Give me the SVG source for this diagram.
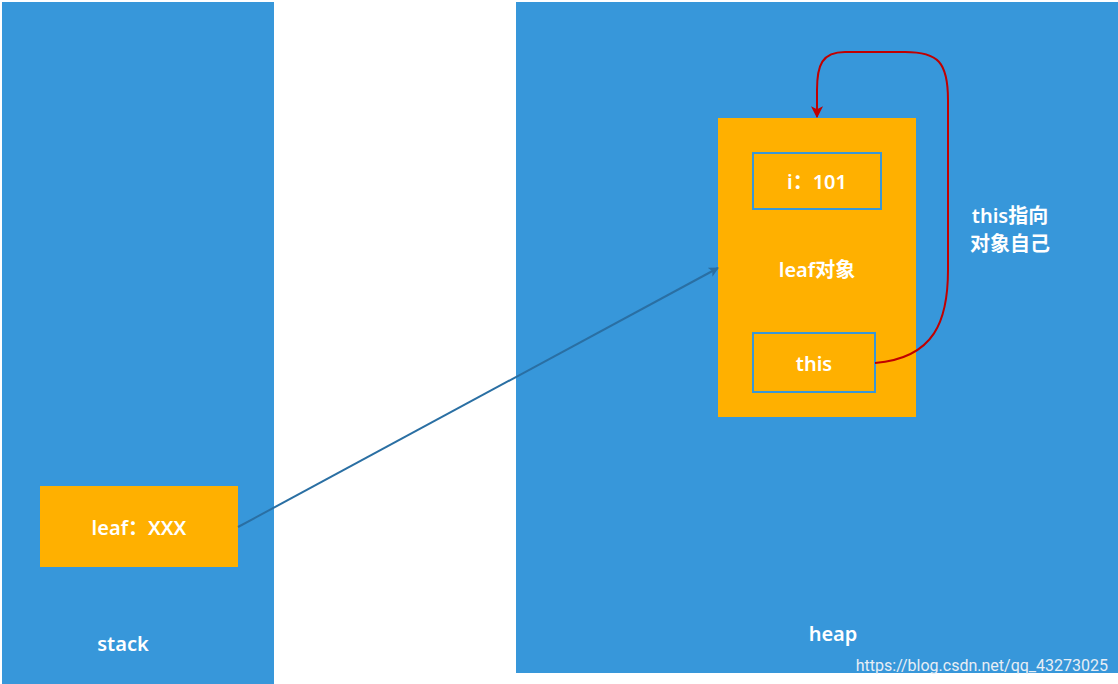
<svg xmlns="http://www.w3.org/2000/svg" width="1118" height="684" viewBox="0 0 1118 684">
<style>
.mem{fill:#3797da}
.obj{fill:#ffb000}
.field{fill:none;stroke:#3a97d8;stroke-width:2}
.t{font-family:"Noto Sans","Noto Sans CJK SC",sans-serif;font-weight:600;fill:#ffffff;font-size:20px;text-anchor:middle;dominant-baseline:central}
</style>
<defs>
<marker id="ab" viewBox="0 0 10 10" refX="9" refY="5" markerWidth="10" markerHeight="10" markerUnits="userSpaceOnUse" orient="auto"><path d="M0,0 L10,5 L0,10 L2.5,5 z" fill="#2a6fa3"/></marker>
<marker id="ar" viewBox="0 0 10 10" refX="9" refY="5" markerWidth="12" markerHeight="12" markerUnits="userSpaceOnUse" orient="auto"><path d="M0,0 L10,5 L0,10 L2.5,5 z" fill="#c00000"/></marker>
</defs>
<rect width="1118" height="684" fill="#ffffff"/>
<g id="stack"><rect class="mem" x="2" y="2" width="272" height="682"/><text class="t" x="123" y="643">stack</text></g>
<g id="heap"><rect class="mem" x="516" y="2" width="602" height="671"/><text class="t" x="833" y="633">heap</text></g>
<g id="leaf-ref"><rect class="obj" x="40" y="486" width="198" height="81"/><text class="t" x="139" y="527">leaf：XXX</text></g>
<g id="leaf-object"><rect class="obj" x="718" y="118" width="198" height="299"/><text class="t" x="817" y="269">leaf对象</text></g>
<g id="field-i"><rect class="field" x="753" y="153" width="128" height="56"/><text class="t" x="817" y="181">i：101</text></g>
<g id="field-this"><rect class="field" x="753" y="333" width="122" height="59"/><text class="t" x="814" y="363">this</text></g>
<g id="note"><text class="t" x="1010" y="215">this指向</text><text class="t" x="1010" y="243">对象自己</text></g>
<g id="connectors">
<path d="M238,527 L718,268" fill="none" stroke="#2a6fa3" stroke-width="2" marker-end="url(#ab)"/>
<path d="M875,363 C935,358 948,320 948,270 L948,100 C948,62 938,52 905,52 L845,52 C822,52 817,65 817,90 L817,117" fill="none" stroke="#c00000" stroke-width="2" marker-end="url(#ar)"/>
</g>
<text x="1108" y="665" font-family="Roboto,'Liberation Sans',sans-serif" font-size="16" fill="#e8eef5" text-anchor="end" dominant-baseline="central">https://blog.csdn.net/qq_43273025</text>
</svg>
